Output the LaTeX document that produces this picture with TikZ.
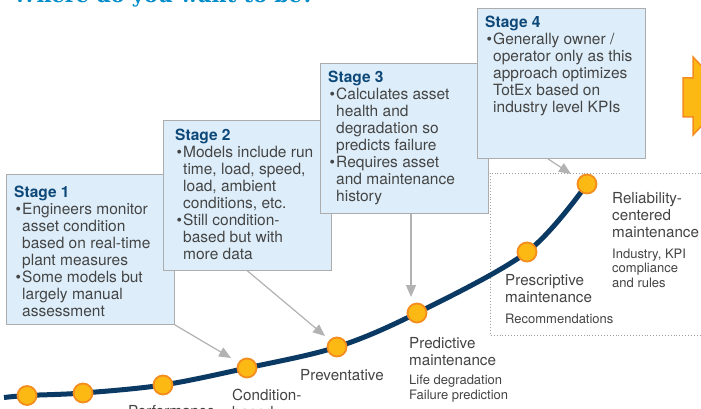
\documentclass[tikz,border=0pt]{standalone}
\usepackage{fontspec}
\setmainfont{TeX Gyre Heros}
\newfontfamily\titlefont{DejaVu Serif}
\usetikzlibrary{arrows.meta,calc}
\definecolor{boxfill}{RGB}{221,238,250}
\definecolor{boxline}{RGB}{172,172,172}
\definecolor{curvenavy}{RGB}{10,58,100}
\definecolor{headblue}{RGB}{13,72,120}
\definecolor{bodygray}{RGB}{68,68,68}
\definecolor{dotfill}{RGB}{253,185,19}
\definecolor{dotline}{RGB}{244,140,30}
\definecolor{arrgray}{RGB}{178,178,178}
\definecolor{titleblue}{RGB}{0,140,200}
\newcommand{\mybul}{\makebox[8pt][l]{\hspace{1.5pt}\textbullet}}
\newcommand{\myind}{\hspace*{8pt}}
\newcommand{\stagehead}[1]{{\bfseries\color{headblue}#1}}
\tikzset{
  stagebox/.style={draw=boxline, fill=boxfill, line width=0.9pt, minimum width=168pt,
    minimum height=150pt, anchor=north west, inner sep=0pt},
  stagetext/.style={anchor=base west, align=left, inner sep=0pt,
    font=\fontsize{15.5}{17}\selectfont, text=bodygray},
  dotnode/.style={circle, fill=dotfill, draw=dotline, line width=1.8pt, minimum size=19pt, inner sep=0pt},
  lab/.style={anchor=base west, align=left, inner sep=0pt, font=\fontsize{15.2}{17}\selectfont, text=bodygray},
  sublab/.style={anchor=base west, align=left, inner sep=0pt, font=\fontsize{13}{14.2}\selectfont, text=bodygray},
  grayarrow/.style={draw=arrgray, line width=1.2pt, -{Triangle[length=12pt,width=10pt]}, arrgray},
}
\begin{document}
\begin{tikzpicture}[x=1pt,y=-1pt]
\useasboundingbox (0,0) rectangle (701,409);
\clip (0,0) rectangle (701,409);
\fill[white] (0,0) rectangle (701,409);

% title (cut off at top)
\node[anchor=base west, inner sep=0pt, font=\titlefont\bfseries\fontsize{20.8}{24}\selectfont, text=titleblue] (title) at (13,2.6) {Where do you want to be?};

% dotted frame
\draw[gray!75, dotted, line width=0.9pt] (710,173) -- (490,173) -- (490,335) -- (710,335);

% orange block arrow at right edge
\draw[fill=dotfill, draw=dotline, line width=1.5pt] (683,78) -- (693,78) -- (693,57) -- (730,96) -- (693,135) -- (693,117) -- (683,117) -- cycle;

% curve points
\coordinate (p0) at (4,397.5);
\coordinate (p1) at (27,395.5);
\coordinate (p2) at (83,393);
\coordinate (p3) at (163,385);
\coordinate (p4) at (247,368);
\coordinate (p5) at (337,347);
\coordinate (p6) at (417,313);
\coordinate (p7) at (527,252);
\coordinate (p8) at (587,184);
\draw[curvenavy, line width=5pt] plot[smooth, tension=0.55] coordinates {(p0) (p1) (p2) (p3) (p4) (p5) (p6) (p7) (p8)};

% stage boxes (text nodes anchored at the baseline of their last line)
\node[stagebox] (s1) at (6,174) {};
\node[stagetext] (t1) at (14,316) {\stagehead{Stage 1}\\
\mybul Engineers monitor\\ \myind asset condition\\ \myind based on real-time\\ \myind plant measures\\
\mybul Some models but\\ \myind largely manual\\ \myind assessment};

\node[stagebox] (s2) at (163,120) {};
\node[stagetext] (t2) at (175,259) {\stagehead{Stage 2}\\
\mybul Models include run\\ \myind time, load, speed,\\ \myind load, ambient\\ \myind conditions, etc.\\
\mybul Still condition-\\ \myind based but with\\ \myind more data};

\node[stagebox] (s3) at (320,63) {};
\node[stagetext] (t3) at (328,201) {\stagehead{Stage 3}\\
\mybul Calculates asset\\ \myind health and\\ \myind degradation so\\ \myind predicts failure\\
\mybul Requires asset\\ \myind and maintenance\\ \myind history};

\node[stagebox] (s4) at (477,8) {};
\node[stagetext] (t4) at (485,113) {\stagehead{Stage 4}\\
\mybul Generally owner /\\ \myind operator only as this\\ \myind approach optimizes\\ \myind TotEx based on\\ \myind industry level KPIs};

% arrows from boxes to the curve
\coordinate (a1) at (231,358);
\coordinate (a2) at (325,336);
\coordinate (a3) at (411,297);
\coordinate (a4) at (571,174);
\coordinate (b3) at (411,0);
\coordinate (b4) at (548,0);
\draw[grayarrow] (s1.south east) -- (a1);
\draw[grayarrow] (s2.south) -- (a2);
\draw[grayarrow] (s3.south -| b3) -- (a3);
\draw[grayarrow] (s4.south -| b4) -- (a4);

% dots
\foreach \i in {1,...,8} { \node[dotnode] (d\i) at (p\i) {}; }

% labels
\node[lab] (l3) at (128,416) {Performance};
\node[lab] (l4) at (232,417.5) {Condition-\\based};
\node[lab] (l5) at (300,380) {Preventative};
\node[lab] (l6) at (409,365) {Predictive\\maintenance};
\node[sublab] (m6) at (409,399) {Life degradation\\Failure prediction};
\node[lab] (l7) at (505,302) {Prescriptive\\maintenance};
\node[sublab] (m7) at (505,323) {Recommendations};
\node[lab] (l8) at (612,237) {Reliability-\\centered\\maintenance};
\node[sublab] (m8) at (612,287) {Industry, KPI\\compliance\\and rules};
\end{tikzpicture}
\end{document}
